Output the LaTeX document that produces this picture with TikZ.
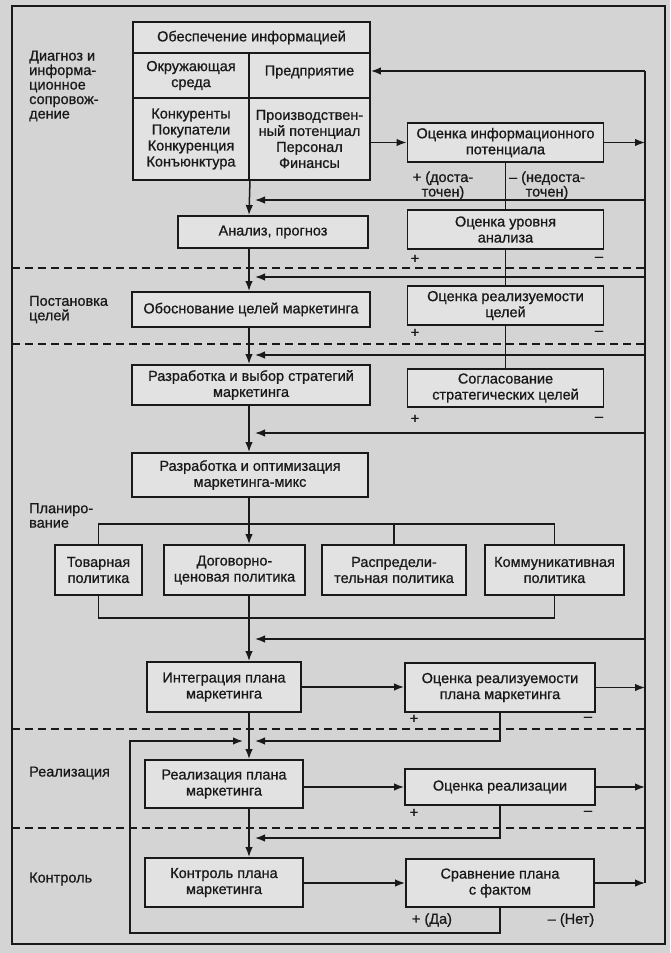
\documentclass[tikz,border=0pt]{standalone}
\usepackage{fontspec}
\setmainfont{Liberation Sans}[BoldFont={Liberation Sans}, BoldFeatures={FakeBold=0.8}]
\usetikzlibrary{arrows.meta}
\definecolor{bg}{RGB}{212,212,212}
\definecolor{boxfill}{RGB}{226,226,226}
\definecolor{ink}{RGB}{25,25,25}
\newcommand{\myfs}{\fontsize{14.5}{16}\selectfont\bfseries}
\newcommand{\mylfs}{\fontsize{14.5}{14.5}\selectfont\bfseries}
\newcommand{\mysfs}{\fontsize{14.5}{13.5}\selectfont\bfseries}
\tikzset{
  box/.style={draw=ink, line width=1.9pt, fill=boxfill, inner sep=0pt, align=center, font=\myfs, text=ink},
  lab/.style={inner sep=0pt, align=left, font=\mylfs, text=ink},
  sgn/.style={inner sep=0pt, align=center, font=\mysfs, text=ink},
  conn/.style={draw=ink, line width=1.5pt},
  arr/.style={conn, -{Latex[length=10pt,width=7.5pt]}},
  sepline/.style={draw=ink, line width=1.6pt, dash pattern=on 8pt off 5pt},
  frame/.style={draw=ink, line width=1.6pt},
}
\begin{document}
\begin{tikzpicture}[x=1pt,y=-1pt]
\fill[bg] (0,0) rectangle (670,953);
\useasboundingbox (0,0) rectangle (670,953);
\draw[frame] (12,6) rectangle (665,944);

% ---- left labels
\node[lab, anchor=west] (l1) at (29,86) {Диагноз и\\информа-\\ционное\\сопровож-\\дение};
\node[lab, anchor=west] (l2) at (29,309.5) {Постановка\\целей};
\node[lab, anchor=west] (l3) at (29,515.5) {Планиро-\\вание};
\node[lab, anchor=west] (l4) at (29,773) {Реализация};
\node[lab, anchor=west] (l5) at (29,879) {Контроль};

% ---- information group box
\node[box, minimum width=237pt, minimum height=31pt] (g0) at (251.5,37.5) {Обеспечение информацией};
\node[box, minimum width=116pt, minimum height=45pt] (g1) at (191,75.5) {Окружающая\\среда};
\node[box, minimum width=121pt, minimum height=45pt] (g2) at (309.5,75.5) {};
\node[sgn, font=\myfs] (g2t) at (309.5,72) {Предприятие};
\node[box, minimum width=116pt, minimum height=82pt] (g3) at (191,139) {Конкуренты\\Покупатели\\Конкуренция\\Конъюнктура};
\node[box, minimum width=121pt, minimum height=82pt] (g4) at (309.5,139) {Производствен-\\ный потенциал\\Персонал\\Финансы};

% ---- main column
\node[box, minimum width=190pt, minimum height=32pt] (an) at (273,232) {Анализ, прогноз};
\node[box, minimum width=238pt, minimum height=35pt] (ob) at (251,309.5) {Обоснование целей маркетинга};
\node[box, minimum width=238pt, minimum height=40pt] (rs) at (251,385) {Разработка и выбор стратегий\\маркетинга};
\node[box, minimum width=236pt, minimum height=44pt] (mm) at (250,475) {Разработка и оптимизация\\маркетинга-микс};
\node[box, minimum width=87pt, minimum height=50pt] (p1) at (98.5,570) {Товарная\\политика};
\node[box, minimum width=141pt, minimum height=50pt] (p2) at (234.5,570) {Договорно-\\ценовая политика};
\node[box, minimum width=144pt, minimum height=50pt] (p3) at (394,570) {Распредели-\\тельная политика};
\node[box, minimum width=139pt, minimum height=50pt] (p4) at (554.5,570) {Коммуникативная\\политика};
\node[box, minimum width=154pt, minimum height=50pt] (ip) at (224,687) {Интеграция плана\\маркетинга};
\node[box, minimum width=158pt, minimum height=48pt] (rp) at (224,784) {Реализация плана\\маркетинга};
\node[box, minimum width=158pt, minimum height=49pt] (kp) at (224,882.5) {Контроль плана\\маркетинга};

% ---- right column
\node[box, minimum width=196pt, minimum height=39pt] (oip) at (505.5,142.5) {Оценка информационного\\потенциала};
\node[box, minimum width=196pt, minimum height=39pt] (oua) at (505.5,229.5) {Оценка уровня\\анализа};
\node[box, minimum width=196pt, minimum height=39pt] (orc) at (505.5,305.5) {Оценка реализуемости\\целей};
\node[box, minimum width=196pt, minimum height=38pt] (sog) at (505.5,388) {Согласование\\стратегических целей};
\node[box, minimum width=190pt, minimum height=49pt] (orp) at (500,687.5) {Оценка реализуемости\\плана маркетинга};
\node[box, minimum width=190pt, minimum height=36pt] (ore) at (500,787) {Оценка реализации};
\node[box, minimum width=188pt, minimum height=48pt] (spf) at (500,883) {Сравнение плана\\с фактом};

% ---- signs
\node[sgn] (s1) at (443,185.5) {+ (доста-\\точен)};
\node[sgn] (s2) at (547,185.5) {– (недоста-\\точен)};
\node[sgn] (s3) at (415,259) {+};
\node[sgn] (s4) at (599,259) {–};
\node[sgn] (s5) at (415,333) {+};
\node[sgn] (s6) at (599,333) {–};
\node[sgn] (s7) at (415,419) {+};
\node[sgn] (s8) at (599,419) {–};
\node[sgn] (s9) at (414,719) {+};
\node[sgn] (s10) at (588,719) {–};
\node[sgn] (s11) at (414,813) {+};
\node[sgn] (s12) at (588,813) {–};
\node[sgn] (s13) at (432,920) {+ (Да)};
\node[sgn] (s14) at (571,920) {– (Нет)};

% ---- coordinates
\coordinate (m) at (249,0);
\coordinate (rtop) at (645,71);
\coordinate (rbot) at (645,883);
\coordinate (f1) at (645,200);
\coordinate (f2) at (645,277);
\coordinate (f3) at (645,355);
\coordinate (f4) at (645,433);
\coordinate (f5) at (645,639);
\coordinate (L1) at (0,741);
\coordinate (L2) at (0,838);
\coordinate (lb) at (130,933);
\coordinate (tb) at (0,524);
\coordinate (bb) at (0,618);

% ---- dashed separators
\draw[sepline] (12,268) -- (645,268);
\draw[sepline] (12,344) -- (645,344);
\draw[sepline] (12,729) -- (645,729);
\draw[sepline] (12,828) -- (645,828);

% ---- main column arrows
\draw[arr] (g3.south east) -- (an.north -| m);
\draw[arr] (an.south -| m) -- (ob.north -| m);
\draw[arr] (ob.south -| m) -- (rs.north -| m);
\draw[arr] (rs.south -| m) -- (mm.north -| m);
\draw[arr] (mm.south -| m) -- (p2.north -| m);
\draw[arr] (p2.south -| m) -- (ip.north -| m);
\draw[arr] (ip.south -| m) -- (rp.north -| m);
\draw[arr] (rp.south -| m) -- (kp.north -| m);

% ---- planning buses
\draw[conn] (p1.north) -- (p1.north |- tb) -- (p4.north |- tb) -- (p4.north);
\draw[conn] (p3.north) -- (p3.north |- tb);
\draw[conn] (p1.south) -- (p1.south |- bb) -- (p4.south |- bb) -- (p4.south);

% ---- right column links
\draw[conn] (oip.south) -- (oua.north);
\draw[conn] (oua.south) -- (orc.north);
\draw[conn] (orc.south) -- (sog.north);

% ---- horizontal arrows
\draw[arr] (g4.east |- oip.west) -- (oip.west);
\draw[arr] (oip.east) -- (oip.east -| rtop);
\draw[arr] (ip.east) -- (orp.west |- ip.east);
\draw[arr] (orp.east) -- (orp.east -| rtop);
\draw[arr] (rp.east |- ore.west) -- (ore.west);
\draw[arr] (ore.east) -- (ore.east -| rtop);
\draw[arr] (kp.east |- spf.west) -- (spf.west);
\draw[arr] (spf.east) -- (spf.east -| rtop);

% ---- right feedback bus
\draw[conn] (rtop) -- (rbot);
\draw[arr] (rtop) -- (rtop -| g2.east);
\draw[arr, shorten >=6pt] (f1) -- (f1 -| m);
\draw[arr, shorten >=6pt] (f2) -- (f2 -| m);
\draw[arr, shorten >=6pt] (f3) -- (f3 -| m);
\draw[arr, shorten >=6pt] (f4) -- (f4 -| m);
\draw[arr, shorten >=6pt] (f5) -- (f5 -| m);

% ---- lower loops
\draw[arr, shorten >=6pt] (orp.south) |- (m |- L1);
\draw[arr, shorten >=6pt] (ore.south) |- (m |- L2);
\draw[arr, shorten >=6pt] (spf.south) |- (lb) |- (m |- L1);
\end{tikzpicture}
\end{document}
